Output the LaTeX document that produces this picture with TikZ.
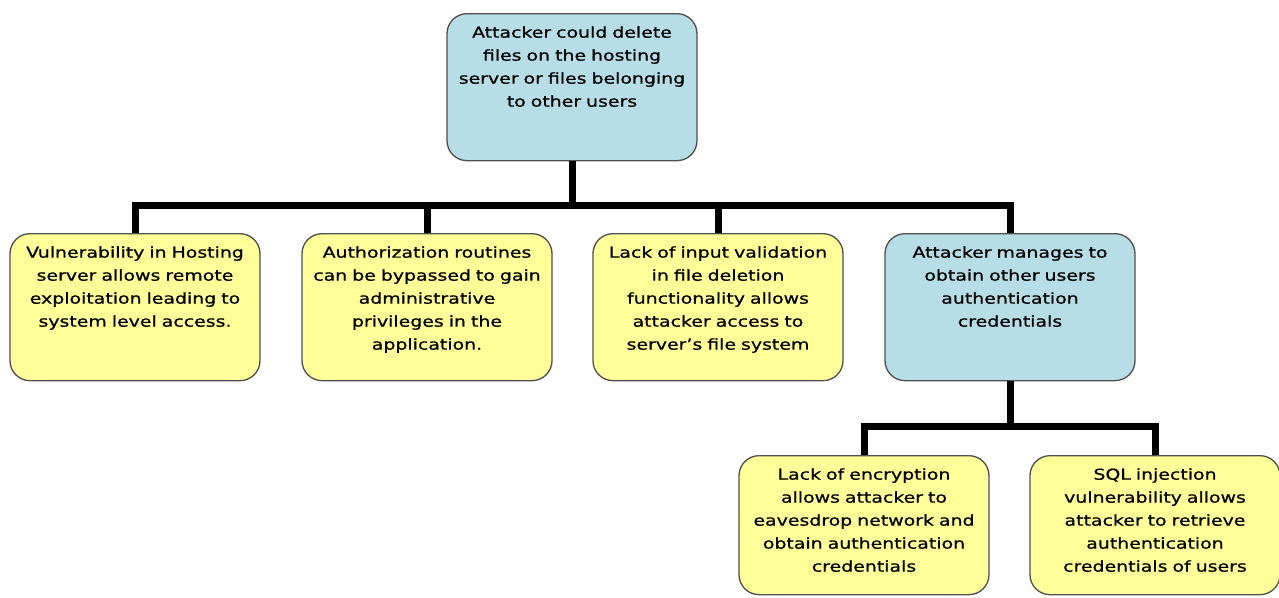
\documentclass[tikz,border=0pt]{standalone}
\usepackage{fontspec}
\setmainfont[FakeStretch=1.26, FakeBold=0.7]{DejaVu Sans}
\usepackage{tikz}
\definecolor{paleblue}{RGB}{183, 222, 230}
\definecolor{paleyellow}{RGB}{255, 255, 153}
\definecolor{boxline}{RGB}{80, 80, 80}

\begin{document}
\begin{tikzpicture}[x=0.75pt, y=-0.75pt,
        treebox/.style={draw=boxline, line width=1pt, rounded corners=15pt,
            text width=178pt, minimum width=187.5pt, align=center, anchor=north,
            inner ysep=0pt, text height=18pt, text depth=92.25pt,
            font=\fontsize{11.25pt}{17.25pt}\selectfont},
        lowbox/.style={treebox, text depth=86.25pt},
        goal/.style={fill=paleblue},
        cause/.style={fill=paleyellow},
        wire/.style={line width=5.25pt, black}]
    \useasboundingbox (0,0) rectangle (1279,597);
    % root and first level
    \node[treebox, goal]  (attdel)     at ( 572, 13) {Attacker could delete\\ files on the hosting\\ server or files belonging\\ to other users};
    \node[treebox, cause] (vulnhost)   at ( 135,233) {Vulnerability in Hosting\\ server allows remote\\ exploitation leading to\\ system level access.};
    \node[treebox, cause] (authbypass) at ( 427,233) {Authorization routines\\ can be bypassed to gain\\ administrative\\ privileges in the\\ application.};
    \node[treebox, cause] (inputval)   at ( 718,233) {Lack of input validation\\ in file deletion\\ functionality allows\\ attacker access to\\ server’s file system};
    \node[treebox, goal]  (credsteal)  at (1010,233) {Attacker manages to\\ obtain other users\\ authentication\\ credentials};
    % second level
    \node[lowbox, cause]  (noencrypt)  at ( 864,455) {Lack of encryption\\ allows attacker to\\ eavesdrop network and\\ obtain authentication\\ credentials};
    \node[lowbox, cause]  (sqlinj)     at (1155,455) {SQL injection\\ vulnerability allows\\ attacker to retrieve\\ authentication\\ credentials of users};

    \coordinate (topbus) at ( 572,205);
    \coordinate (lowbus) at (1010,426);
    \draw[wire] (attdel.south) -- (topbus);
    \draw[wire] (vulnhost.north) |- (topbus) -| (credsteal.north);
    \draw[wire] (authbypass.north) -- (authbypass.north |- topbus);
    \draw[wire] (inputval.north) -- (inputval.north |- topbus);
    \draw[wire] (credsteal.south) -- (lowbus);
    \draw[wire] (noencrypt.north) |- (lowbus) -| (sqlinj.north);
\end{tikzpicture}
\end{document}
